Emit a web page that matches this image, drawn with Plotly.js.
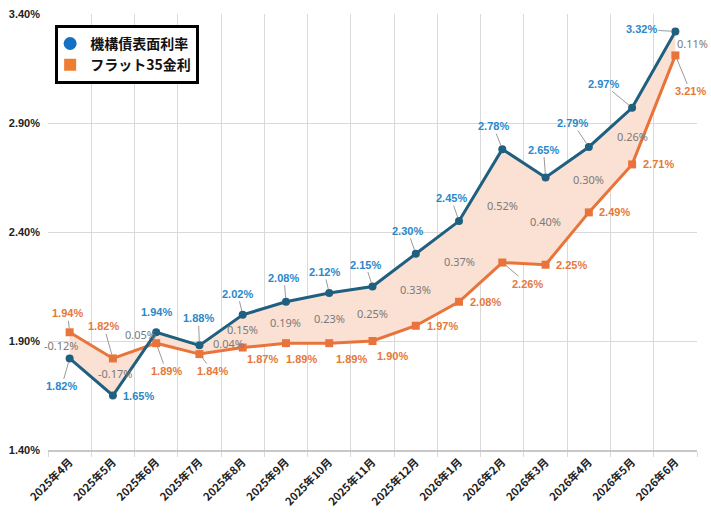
<!DOCTYPE html>
<html><head><meta charset="utf-8">
<script src="https://cdn.plot.ly/plotly-3.0.1.min.js"></script>
<style>html,body{margin:0;padding:0;background:#fff}</style>
</head><body><div id="chart" style="width:711px;height:520px"></div>
<script>
const months = ["2025年4月","2025年5月","2025年6月","2025年7月","2025年8月","2025年9月","2025年10月","2025年11月","2025年12月","2026年1月","2026年2月","2026年3月","2026年4月","2026年5月","2026年6月"];
const bondRate = [1.82,1.65,1.94,1.88,2.02,2.08,2.12,2.15,2.30,2.45,2.78,2.65,2.79,2.97,3.32];
const flat35Rate = [1.94,1.82,1.89,1.84,1.87,1.89,1.89,1.90,1.97,2.08,2.26,2.25,2.49,2.71,3.21];
const bondName = "機構債表面利率";
const flatName = "フラット35金利";

// label placement (pixel offsets from the point)
const bondOff = [[-8,28],[26,0],[0,-20],[-1,-27],[-5,-21],[-2,-24],[-5,-21],[-7,-22],[-8,-23],[-8,-23],[-9,-23],[-2,-28],[-16,-24],[-29,-24],[-34,-2]];
const bondLeader = [1,0,0,1,1,1,1,1,1,1,1,1,1,1,1];
const flatOff = [[-2,-19],[-9,-32],[10,28],[13,17],[20,11],[16,16],[22,16],[20,15],[27,0],[26,0],[25,21],[26,0],[26,0],[26,0],[15,36]];
const flatLeader = [1,1,1,1,0,0,0,0,0,0,1,0,0,0,1];
const diffShift = [[-8,0],[3,3],[-16,3],[29,6],[0,2],[0,0],[0,0],[0,0],[0,0],[0,0],[0,0],[0,0],[0,0],[0,0],[17,0]];

const BLUE_LINE = '#1f5f7f', BLUE_TXT = '#2a88ca';
const ORANGE_LINE = '#e8743b', ORANGE_TXT = '#e5783a';
const GRAY_TXT = '#7a7a7a';
const labelFont = {family:'Liberation Sans, Arial, sans-serif', size:11, weight:'bold'};

const traces = [
  {x:months, y:flat35Rate, type:'scatter', mode:'lines+markers', showlegend:false, name:flatName,
   line:{color:ORANGE_LINE, width:3}, marker:{symbol:'square', size:8, color:ORANGE_LINE}, hoverinfo:'skip'},
  {x:months, y:bondRate, type:'scatter', mode:'lines+markers', showlegend:false, name:bondName,
   fill:'tonexty', fillcolor:'#fbe1d3',
   line:{color:BLUE_LINE, width:3}, marker:{symbol:'circle', size:8, color:BLUE_LINE}, hoverinfo:'skip'},
  {x:[null], y:[null], type:'scatter', mode:'markers', name:bondName,
   marker:{symbol:'circle', size:13, color:'#1470c4'}},
  {x:[null], y:[null], type:'scatter', mode:'markers', name:flatName,
   marker:{symbol:'square', size:12, color:'#ed7d31'}}
];

const annotations = [];
months.forEach((m,i)=>{
  annotations.push({x:m, y:bondRate[i], xref:'x', yref:'y', text:bondRate[i].toFixed(2)+'%',
    showarrow:true, ax:bondOff[i][0], ay:bondOff[i][1], arrowhead:0, arrowwidth:1,
    arrowcolor: bondLeader[i] ? '#9a9a9a' : 'rgba(0,0,0,0)', standoff:4,
    font:Object.assign({color:BLUE_TXT}, labelFont)});
  annotations.push({x:m, y:flat35Rate[i], xref:'x', yref:'y', text:flat35Rate[i].toFixed(2)+'%',
    showarrow:true, ax:flatOff[i][0], ay:flatOff[i][1], arrowhead:0, arrowwidth:1,
    arrowcolor: flatLeader[i] ? '#9a9a9a' : 'rgba(0,0,0,0)', standoff:4,
    font:Object.assign({color:ORANGE_TXT}, labelFont)});
  const d = bondRate[i]-flat35Rate[i];
  annotations.push({x:m, y:(bondRate[i]+flat35Rate[i])/2, xref:'x', yref:'y',
    text:(d<0?'-':'')+Math.abs(d).toFixed(2)+'%', showarrow:false,
    xshift:diffShift[i][0], yshift:diffShift[i][1],
    font:{family:'Noto Sans, sans-serif', size:11, color:GRAY_TXT}});
});

const layout = {
  width:711, height:520,
  margin:{l:48, r:14, t:14, b:70},
  paper_bgcolor:'#fff', plot_bgcolor:'#fff',
  xaxis:{type:'category', range:[-0.5,14.5], tickson:'boundaries', showgrid:true, gridcolor:'#d9d9d9',
    ticks:'outside', ticklen:5, tickcolor:'#d9d9d9', tickangle:-45,
    tickfont:{family:'Noto Sans CJK JP, sans-serif', size:11, color:'#222', weight:'bold'},
    showline:true, linecolor:'#c8c8c8', linewidth:1.5, fixedrange:true},
  yaxis:{range:[1.4,3.4], tick0:1.4, dtick:0.5, tickformat:'.2f', ticksuffix:'%',
    showgrid:true, gridcolor:'#d9d9d9', zeroline:false, ticks:'', ticklabelstandoff:7,
    tickfont:{family:'Liberation Sans, Arial, sans-serif', size:11, color:'#222', weight:'bold'}, fixedrange:true},
  legend:{x:0.011, y:0.975, xanchor:'left', yanchor:'top', bordercolor:'#000', borderwidth:3, bgcolor:'#fff',
    indentation:-8,
    font:{family:'Noto Sans CJK JP, sans-serif', size:14, color:'#111', weight:'bold'}, traceorder:'normal'},
  annotations:annotations,
  showlegend:true
};

Plotly.newPlot('chart', traces, layout, {displayModeBar:false, staticPlot:true});
</script></body></html>
